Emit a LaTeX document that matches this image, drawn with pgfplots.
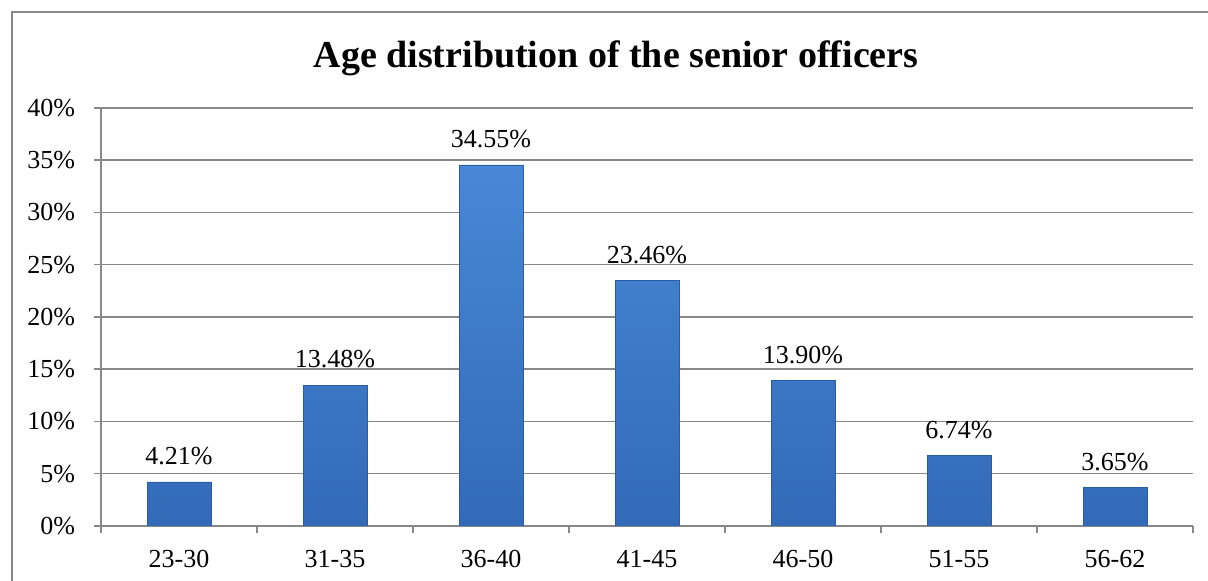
\documentclass[border=0pt]{standalone}
\usepackage{fontspec}
\setmainfont{Liberation Serif}
\usepackage{pgfplots}
\pgfplotsset{compat=1.18}
\definecolor{gridgray}{RGB}{136,136,136}
\definecolor{bartop}{RGB}{72,136,214}
\definecolor{barbot}{RGB}{50,106,184}
\definecolor{baredge}{RGB}{42,92,165}
\begin{document}
\begin{tikzpicture}
\useasboundingbox (0,0) rectangle (604pt,290.5pt);
% outer chart frame (only left and top edges fall inside the picture)
\draw[gridgray, line width=1pt] (6pt,0) -- (6pt,284.5pt) -- (604pt,284.5pt);
\node[font=\fontsize{19}{22}\selectfont\bfseries, anchor=base] at (308pt,256.5pt)
    {Age distribution of the senior officers};
\begin{axis}[
    at={(50.5pt,27.5pt)}, anchor=south west,
    scale only axis, width=546pt, height=209pt,
    xmin=-0.5, xmax=6.5,
    ymin=0, ymax=40,
    xtick={0,...,6},
    xticklabels={23-30,31-35,36-40,41-45,46-50,51-55,56-62},
    minor xtick={-0.5,0.5,...,6.5},
    ytick={0,5,...,40},
    yticklabel={\pgfmathprintnumber{\tick}\%},
    axis x line*=bottom, axis y line*=left,
    axis line style={-, gridgray, line width=0.75pt},
    ymajorgrids=true,
    grid style={gridgray, line width=0.75pt},
    tick align=outside,
    major tick length=3.5pt, minor tick length=3.5pt,
    major x tick style={draw=none},
    minor tick style={gridgray, line width=0.75pt},
    major y tick style={gridgray, line width=0.75pt},
    tick label style={font=\fontsize{13}{15}\selectfont},
    yticklabel style={xshift=-6pt},
    xticklabel style={yshift=-5pt},
    /pgf/number format/assume math mode=true,
    nodes near coords={\pgfmathprintnumber[fixed,fixed zerofill,precision=2]{\pgfplotspointmeta}\%},
    every node near coord/.append style={font=\fontsize{13}{15}\selectfont, text=black, yshift=5pt},
]
\addplot[ybar, bar width=32pt, top color=bartop, bottom color=barbot, draw=baredge]
    coordinates {
    (0,4.21)(1,13.48)(2,34.55)(3,23.46)(4,13.90)(5,6.74)(6,3.65)
    };
\end{axis}
\end{tikzpicture}
\end{document}
